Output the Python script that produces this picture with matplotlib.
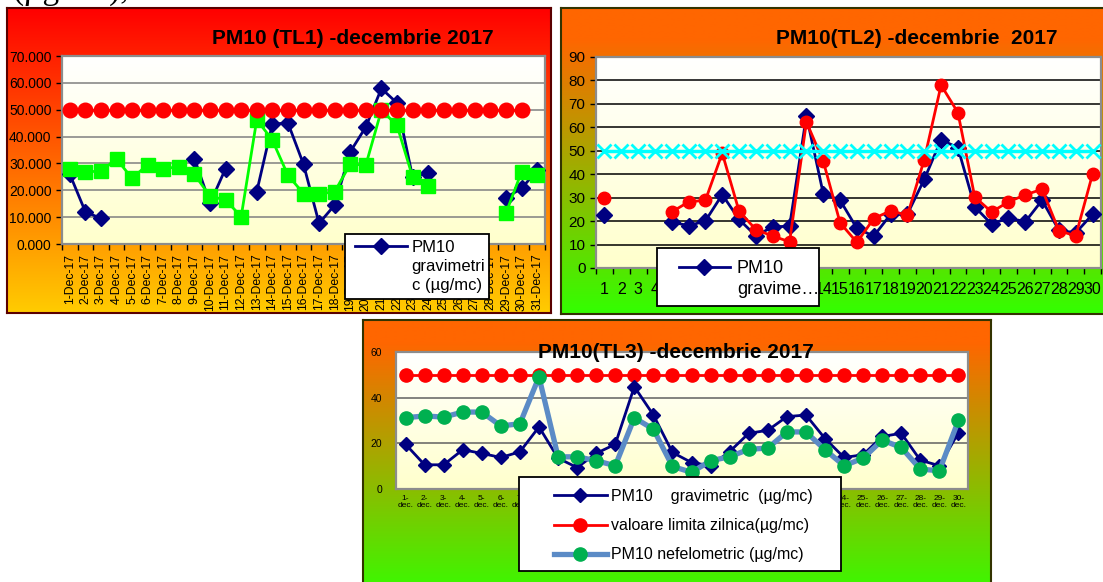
import numpy as np
import matplotlib.pyplot as plt
from matplotlib.lines import Line2D
from matplotlib.patches import Rectangle

plt.rcParams['font.family'] = ['Liberation Sans', 'DejaVu Sans']

W, H = 1103, 582
nan = np.nan

# ---- TL1 data (31 days) ----
tl1_days = list(range(1, 32))
tl1_labels = [f"{d}-Dec-17" for d in tl1_days]
tl1_grav = [26, 12, 9.5, nan, nan, nan, nan, nan, 31.8, 15.1, 28.1, nan, 19.5, 44.6, 45.1,
            29.7, 7.7, 14.5, 34.3, 43.6, 57.9, 52.5, 25, 26.5, nan, nan, nan, nan, 17.3, 20.7, 27.5]
tl1_nef = [27.8, 26.9, 27.1, 31.7, 24.4, 29.6, 28.1, 28.7, 25.9, 17.8, 16.4, 10.2, 46.3, 38.7, 25.6,
           18.8, 18.6, 19.5, 29.7, 29.4, 49.8, 44.2, 25, 21.6, nan, nan, nan, nan, 11.6, 26.9, 25.6]
tl1_limit = [50] * 30 + [nan]

# ---- TL2 data (30 days) ----
tl2_days = list(range(1, 31))
tl2_grav = [22.5, nan, nan, nan, 19.7, 18.0, 20.1, 31.3, 20.7, 13.7, 17.6, 17.8, 65.0, 31.7, 28.9,
            16.9, 13.6, 22.9, 23.0, 37.8, 54.7, 51.3, 26.1, 18.7, 21.4, 19.7, 28.9, 16.1, 15.0, 22.9]
tl2_nef = [30.0, nan, nan, nan, 23.9, 28.2, 28.9, 49.0, 24.2, 16.4, 13.6, 11.2, 62.3, 45.6, 19.3,
           10.9, 21.1, 24.4, 22.5, 46.2, 78.0, 66.3, 30.3, 23.9, 28.2, 31.2, 33.6, 15.9, 13.7, 40.1]
tl2_limit = [50] * 30

# ---- TL3 data (30 days) ----
tl3_days = list(range(1, 31))
tl3_labels = [f"{d}-\ndec." for d in tl3_days]
tl3_grav = [19.6, 10.6, 10.6, 17.2, 15.6, 13.8, 16.3, 27.2, 13.5, 9.4, 15.6, 19.6, 44.8, 32.4, 16.0,
            11.6, 10.2, 16.4, 24.4, 25.7, 31.7, 32.4, 22.1, 13.8, 15.0, 23.0, 24.4, 12.6, 10.2, 24.7]
tl3_nef = [31.2, 32.0, 31.5, 33.7, 33.7, 27.6, 28.6, 49.1, 14.1, 14.1, 12.4, 10.2, 31.2, 26.2, 9.9,
           7.3, 12.4, 14.1, 17.4, 17.9, 25.0, 25.0, 17.2, 10.2, 13.5, 21.4, 18.2, 8.7, 8.0, 30.1]
tl3_limit = [50] * 30


def box(x0, y0, x1, y1):
    return [x0 / W, 1 - y1 / H, (x1 - x0) / W, (y1 - y0) / H]


def gradient(ax, top, bottom, flat=0.0):
    t = np.clip((np.linspace(0, 1, 256) - flat) / (1 - flat), 0, 1)
    top = np.array(top) / 255.0
    bottom = np.array(bottom) / 255.0
    img = top[None, :] * (1 - t[:, None]) + bottom[None, :] * t[:, None]
    ax.imshow(img[:, None, :], aspect='auto', extent=[0, 1, 0, 1],
              transform=ax.transAxes, zorder=0, interpolation='bilinear')


def panel(rect, top, bottom, edge, flat=0.0):
    bg = fig.add_axes(rect)
    gradient(bg, top, bottom, flat)
    bg.set_xlim(0, 1)
    bg.set_ylim(0, 1)
    bg.set_xticks([])
    bg.set_yticks([])
    for s in bg.spines.values():
        s.set_color(edge)
        s.set_linewidth(1.5)
    return bg


def plot_area(ax, grid_color):
    gradient(ax, (255, 255, 255), (255, 255, 204))
    ax.set_axisbelow(True)
    ax.yaxis.grid(True, color=grid_color, lw=1.1)
    for s in ax.spines.values():
        s.set_color('#8c8c8c')
        s.set_linewidth(1.6)
    ax.tick_params(axis='y', length=4, width=1, color='black', direction='out')
    ax.tick_params(axis='x', which='major', length=0)
    ax.tick_params(axis='x', which='minor', length=4, width=1, color='black', direction='out')


def legend_box(ax, x0, y0, x1, y1):
    r = Rectangle((x0 / W, 1 - y1 / H), (x1 - x0) / W, (y1 - y0) / H, transform=fig.transFigure,
                  facecolor='white', edgecolor='black', lw=1.3, zorder=9, clip_on=False)
    ax.add_artist(r)


def blank():
    return Line2D([], [], color='none')


fig = plt.figure(figsize=(W / 100, H / 100), dpi=100)

fig.text(13 / W, 1 + 1 / H, "(µg/mc),", family=['Liberation Serif'], fontsize=24, va='baseline')

# ================= TL1 =================
panel(box(7, 8, 551, 313), (255, 0, 0), (255, 204, 0), '#5a0000')
ax1 = fig.add_axes(box(62, 56, 545, 244))
plot_area(ax1, '#808080')
g1, = ax1.plot(tl1_days, tl1_grav, color='#000080', marker='D', ms=8, lw=2, zorder=3)
ax1.plot(tl1_days, tl1_nef, color='#00ff00', marker='s', ms=10, lw=2, zorder=4)
ax1.plot(tl1_days, tl1_limit, color='#ff0000', marker='o', ms=10.5, lw=2, zorder=5)
ax1.set_xlim(0.5, 31.5)
ax1.set_ylim(0, 70)
ax1.set_yticks(range(0, 71, 10))
ax1.set_yticklabels([f"{v:.3f}" for v in range(0, 71, 10)], fontsize=10)
ax1.set_xticks(tl1_days)
ax1.set_xticklabels(tl1_labels, rotation=90, fontsize=8.8, va='top', ha='center')
ax1.set_xticks(np.arange(0.5, 32, 1), minor=True)
ax1.tick_params(axis='x', which='major', pad=7)
fig.text(353 / W, 1 - 39 / H, "PM10 (TL1) -decembrie 2017", fontsize=15, fontweight='bold',
         ha='center', va='center')
legend_box(ax1, 345, 234, 489, 299)
leg1 = ax1.legend([g1, blank(), blank()], ["PM10", "gravimetri", "c (µg/mc)"], loc='upper left',
                  bbox_to_anchor=(355 / W, 1 - 240 / H), bbox_transform=fig.transFigure,
                  fontsize=12, frameon=False, handlelength=3.1, borderpad=0, handletextpad=0.3,
                  labelspacing=0.25, borderaxespad=0)
leg1.set_zorder(10)

# ================= TL2 =================
panel(box(561, 8, 1115, 314), (255, 102, 0), (51, 255, 0), '#333300', flat=0.1)
ax2 = fig.add_axes(box(596, 57, 1101, 268))
plot_area(ax2, 'black')
g2, = ax2.plot(tl2_days, tl2_grav, color='#000080', marker='D', ms=8.5, lw=2, zorder=3)
ax2.plot(tl2_days, tl2_nef, color='#ff0000', marker='o', ms=9, lw=2, zorder=4)
ax2.plot(tl2_days, tl2_limit, color='#00ffff', marker='x', ms=10, mew=2, lw=2.5, zorder=5)
ax2.set_xlim(0.5, 30.5)
ax2.set_ylim(0, 90)
ax2.set_yticks(range(0, 91, 10))
ax2.set_yticklabels([str(v) for v in range(0, 91, 10)], fontsize=11)
ax2.set_xticks(tl2_days)
ax2.set_xticklabels([str(d) for d in tl2_days], fontsize=11.5)
ax2.set_xticks(np.arange(0.5, 31, 1), minor=True)
ax2.tick_params(axis='x', which='major', pad=10)
fig.text(917 / W, 1 - 39 / H, "PM10(TL2) -decembrie  2017", fontsize=15, fontweight='bold',
         ha='center', va='center')
legend_box(ax2, 657, 248, 819, 306)
leg2 = ax2.legend([g2, blank()], ["PM10", "gravime…"], loc='upper left',
                  bbox_to_anchor=(679 / W, 1 - 260 / H), bbox_transform=fig.transFigure,
                  fontsize=13, frameon=False, handlelength=2.8, borderpad=0, handletextpad=0.4,
                  labelspacing=0.22, borderaxespad=0)
leg2.set_zorder(10)

# ================= TL3 =================
panel(box(363, 320, 991, 600), (255, 102, 0), (51, 255, 0), '#333300', flat=0.08)
ax3 = fig.add_axes(box(396, 352, 968, 489))
plot_area(ax3, '#606060')
r3, = ax3.plot(tl3_days, tl3_limit, color='#ff0000', marker='o', ms=9.5, lw=2, zorder=3)
g3, = ax3.plot(tl3_days, tl3_grav, color='#000080', marker='D', ms=7, lw=2, zorder=4)
n3, = ax3.plot(tl3_days, tl3_nef, color='#5b8bc6', marker='o', ms=9.5, mfc='#00b050', mec='#00b050',
               lw=3.8, zorder=5)
ax3.set_xlim(0.5, 30.5)
ax3.set_ylim(0, 60)
ax3.set_yticks([0, 20, 40, 60])
ax3.set_yticklabels(["0", "20", "40", "60"], fontsize=7.5)
ax3.tick_params(axis='y', length=0, pad=10)
ax3.set_xticks(tl3_days)
ax3.set_xticklabels(tl3_labels, fontsize=6, linespacing=1.1)
ax3.tick_params(axis='x', which='major', pad=4)
ax3.tick_params(axis='x', which='minor', length=0)
fig.text(676 / W, 1 - 353 / H, "PM10(TL3) -decembrie 2017", fontsize=15, fontweight='bold',
         ha='center', va='center', zorder=10)
legend_box(ax3, 519, 477, 841, 571)
leg3 = ax3.legend([g3, r3, n3],
                  ["PM10    gravimetric  (µg/mc)", "valoare limita zilnica(µg/mc)", "PM10 nefelometric (µg/mc)"],
                  loc='upper left', bbox_to_anchor=(554 / W, 1 - 489 / H), bbox_transform=fig.transFigure,
                  fontsize=11.5, frameon=False, handlelength=3.3, borderpad=0, handletextpad=0.25,
                  labelspacing=0.89, borderaxespad=0)
leg3.set_zorder(10)

fig.savefig("out.png", dpi=100)
